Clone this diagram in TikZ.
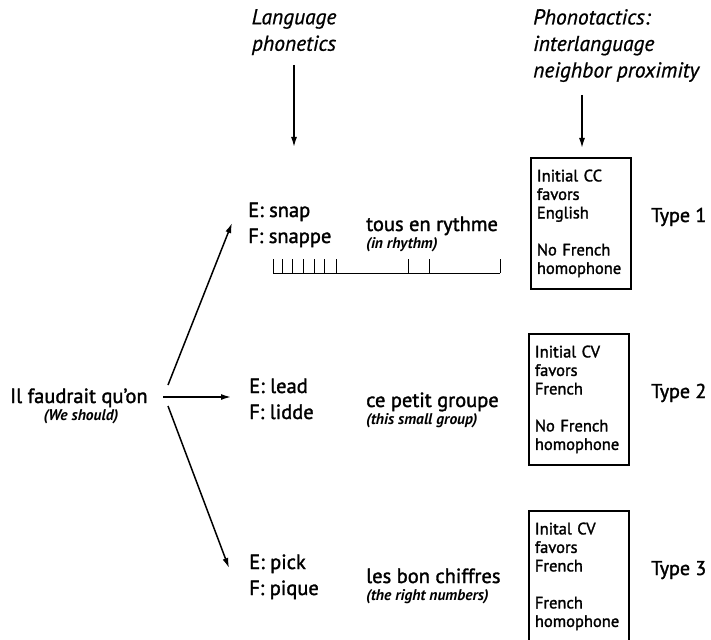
\documentclass[tikz,border=0pt]{standalone}
\usepackage{fontspec}
\setmainfont{PT Sans}
\newfontfamily\medfont{PT Sans}[FakeBold=1.6]
\newfontfamily\meditfont{PT Sans Italic}[FakeBold=0.8]
\usetikzlibrary{arrows.meta}
\begin{document}
\begin{tikzpicture}[x=1pt,y=-1pt,
  main/.style={font=\medfont\fontsize{20.5}{24}\selectfont, inner sep=0pt, anchor=base west},
  trans/.style={font=\fontsize{15.5}{18}\selectfont\bfseries\itshape, inner sep=0pt, anchor=base west},
  head/.style={font=\meditfont\fontsize{21.5}{26.5}\selectfont, inner sep=0pt},
  infobox/.style={draw, line width=1.8pt, minimum height=131pt, anchor=north west,
    text width=88pt, inner xsep=6pt, inner ysep=0pt, align=left,
    font=\medfont\fontsize{16.5}{18.5}\selectfont},
  typelabel/.style={font=\medfont\fontsize{20}{24}\selectfont, inner sep=0pt, anchor=base west},
  arr/.style={-{Latex[length=10pt,width=6pt]}, line width=1.5pt},
  tick/.style={line width=0.9pt},
]
\useasboundingbox (0,0) rectangle (711,639);
\clip (0,0) rectangle (711,639);

% headers
\node[head, align=center, anchor=north] (lang) at (294,9) {Language\\phonetics};
\node[head, align=left, anchor=north west] (phono) at (533,9) {Phonotactics:\\interlanguage\\neighbor proximity};
\coordinate (langtail) at (294,65);
\coordinate (langtip) at (294,147);
\coordinate (phonotail) at (582,95);
\coordinate (phonotip) at (582,148);
\draw[arr] (langtail) -- (langtip);
\draw[arr] (phonotail) -- (phonotip);

% boxes
\node[infobox] (b1) at (530,157) {Initial CC\\favors\\English\\[18.5pt]No French\\homophone};
\node[infobox] (b2) at (528,333) {Initial CV\\favors\\French\\[18.5pt]No French\\homophone};
\node[infobox] (b3) at (528,510) {Inital CV\\favors\\French\\[18.5pt]French\\homophone};
\node[typelabel] (t1) at (651,222) {Type 1};
\node[typelabel] (t2) at (651,398) {Type 2};
\node[typelabel] (t3) at (651,575) {Type 3};

% source
\node[main] (src) at (10,403) {Il faudrait qu’on};
\node[trans, anchor=base] (srct) at (81,420) {(We should)};
\coordinate (s1) at (168,385);
\coordinate (s2) at (163,397);
\coordinate (s3) at (168,406);
\coordinate (a1) at (232,223);
\coordinate (a2) at (231,397);
\coordinate (a3) at (229,568);
\draw[arr] (s1) -- (a1);
\draw[arr] (s2) -- (a2);
\draw[arr] (s3) -- (a3);

% row 1
\node[main] (e1) at (248,217) {E: snap};
\node[main] (f1) at (248,243) {F: snappe};
\node[main] (p1) at (366,231) {tous en rythme};
\node[trans] (tr1) at (366,248) {(in rhythm)};
\coordinate (barL) at (273,273);
\coordinate (barR) at (500,273);
\draw[tick] (barL) -- (barR);
\foreach \tx in {273,282,292,303,314,324,336,408,429,500}
  \draw[tick] (\tx,273) -- (\tx,259);

% row 2
\node[main] (e2) at (249,393) {E: lead};
\node[main] (f2) at (249,419) {F: lidde};
\node[main] (p2) at (366,407) {ce petit groupe};
\node[trans] (tr2) at (366,424) {(this small group)};

% row 3
\node[main] (e3) at (249,569) {E: pick};
\node[main] (f3) at (249,595) {F: pique};
\node[main] (p3) at (366,583) {les bon chiffres};
\node[trans] (tr3) at (366,600) {(the right numbers)};
\end{tikzpicture}
\end{document}
